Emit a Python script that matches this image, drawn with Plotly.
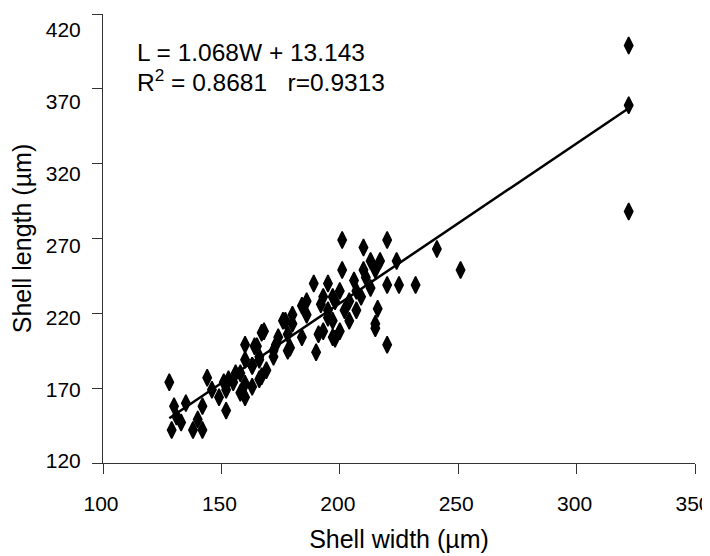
import plotly.graph_objects as go

# Shell width (W, µm) and shell length (L, µm)
width_um = [
    128, 129, 130, 131, 133, 135, 138, 140, 142, 142, 144, 146, 149, 152, 151,
    155, 156, 160, 160, 160, 163, 165, 166, 168, 167, 172, 174, 177, 178,
    189, 195, 186, 192, 197, 180, 186, 176, 195, 167, 178, 184, 191, 197,
    164, 173, 179, 190, 166, 172, 163, 169, 158, 153, 160, 166, 152, 158, 163,
    201, 210, 220, 213, 217, 224, 201, 210, 215, 206, 211, 220, 225, 232,
    200, 207, 213, 193, 198, 204, 209, 195, 202, 207, 216, 197, 204, 215,
    193, 200, 198, 220, 215, 184, 180, 241, 251,
    322, 322, 322,
]
length_um = [
    174, 142, 158, 151, 147, 160, 142, 149, 142, 158, 177, 169, 164, 155, 174,
    174, 180, 199, 189, 164, 185, 198, 189, 208, 178, 195, 204, 215, 195,
    240, 240, 228, 226, 231, 219, 219, 215, 217, 207, 206, 204, 206, 204,
    198, 199, 197, 194, 191, 191, 185, 182, 180, 176, 173, 176, 169, 167, 171,
    269, 264, 269, 255, 255, 255, 249, 249, 249, 242, 244, 239, 239, 239,
    235, 235, 237, 231, 228, 228, 231, 222, 222, 222, 223, 215, 215, 213,
    208, 208, 203, 199, 210, 225, 213, 263, 249,
    399, 359, 288,
]

x_ticks = [100, 150, 200, 250, 300, 350]
y_ticks = [120, 170, 220, 270, 320, 370, 420]

# Regression shown on the chart: L = slope * W + intercept
slope = 1.068
intercept = 13.143

fit_x = [min(width_um), max(width_um)]
fit_y = [slope * x + intercept for x in fit_x]

FONT = "Liberation Sans, Arial, sans-serif"

fig = go.Figure()
fig.add_trace(go.Scatter(
    x=width_um, y=length_um, mode="markers",
    marker=dict(symbol="diamond-tall", size=12, color="black",
                line=dict(color="black", width=1.5)),
    showlegend=False,
))
fig.add_trace(go.Scatter(
    x=fit_x, y=fit_y, mode="lines",
    line=dict(color="black", width=2.5),
    showlegend=False,
))
# empty trace that only registers the overlaid label axis
fig.add_trace(go.Scatter(x=[], y=[], yaxis="y2", mode="markers",
                         showlegend=False, hoverinfo="skip"))

fig.add_annotation(x=113.4, y=394, xref="x", yref="y", xanchor="left", yanchor="middle",
                   text="L = 1.068W + 13.143", showarrow=False,
                   font=dict(family=FONT, size=24.5, color="black"))
fig.add_annotation(x=113.4, y=375.5, xref="x", yref="y", xanchor="left", yanchor="middle",
                   text="R<sup>2</sup> = 0.8681   r=0.9313", showarrow=False,
                   font=dict(family=FONT, size=24.5, color="black"))

axis_common = dict(
    showline=True, linecolor="#333333", linewidth=1.2,
    ticks="outside", ticklen=10, tickcolor="#333333", tickwidth=1.2,
    showgrid=False, zeroline=False, automargin=False,
    ticklabeloverflow="allow",
    tickfont=dict(family=FONT, size=21, color="black"),
    title_font=dict(family=FONT, size=25, color="black"),
)

fig.update_xaxes(range=[100, 350], tickvals=x_ticks,
                 ticklabelstandoff=12, ticklabelshift=-2,
                 title_text="Shell width (µm)", title_standoff=16, **axis_common)
# primary y axis: line and tick marks only
fig.update_yaxes(range=[120, 420], tickvals=y_ticks, showticklabels=False, **axis_common)

# In the reference the y tick labels sit on a slightly compressed spacing,
# so they are drawn on an overlaid axis sharing the same plot area.
fig.update_layout(
    yaxis2=dict(
        overlaying="y", side="left", range=[118.6, 431.1], tickvals=y_ticks,
        showline=False, showgrid=False, zeroline=False, automargin=False,
        ticks="outside", ticklen=10, tickcolor="rgba(0,0,0,0)",
        ticklabelstandoff=7, ticklabeloverflow="allow",
        tickfont=dict(family=FONT, size=21, color="black"),
        title=dict(text="Shell length (µm)", standoff=8,
                   font=dict(family=FONT, size=25, color="black")),
    ),
    width=710, height=548,
    margin=dict(l=95, r=23, t=6, b=93),
    plot_bgcolor="white", paper_bgcolor="white",
)

fig.write_html("out.html")
